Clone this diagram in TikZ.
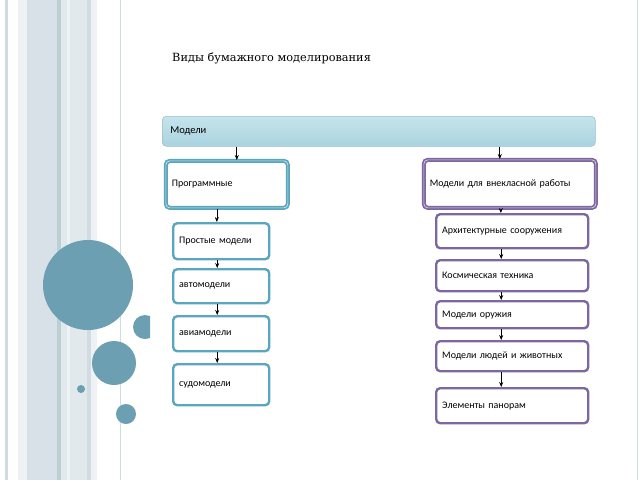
\documentclass[tikz,border=0pt]{standalone}
\usepackage{fontspec}
\setmainfont{DejaVu Serif}
\newfontfamily\boxfont{Carlito}
\usetikzlibrary{arrows.meta}
\definecolor{tealc}{HTML}{5AA6BD}
\definecolor{purp}{HTML}{7E67A0}
\definecolor{circ}{HTML}{6B9FB1}
\definecolor{stA}{HTML}{CFDDE1}
\definecolor{stB}{HTML}{EEF2F4}
\definecolor{stC}{HTML}{D8E1E7}
\definecolor{stD}{HTML}{BCCFD5}
\definecolor{stE}{HTML}{E2E9ED}
\definecolor{stF}{HTML}{D0DCE1}
\definecolor{barTop}{HTML}{C6E4EC}
\definecolor{barBot}{HTML}{A9D3DF}
\tikzset{
  arr/.style={-{Stealth[length=5pt,width=4pt]}, black, line width=0.7pt},
  lbox/.style={draw=tealc, line width=2.4pt, rounded corners=4pt, fill=white,
    font=\boxfont\fontsize{10}{12}\selectfont, align=left, anchor=north west,
    inner xsep=6pt, inner ysep=0pt},
  rbox/.style={lbox, draw=purp},
  bigl/.style={lbox, double=tealc!30, double distance=0.7pt, line width=1.7pt},
  bigr/.style={bigl, draw=purp, double=purp!30},
}
\begin{document}
\begin{tikzpicture}[x=1pt,y=-1pt]
\useasboundingbox (0,0) rectangle (640,480);
\fill[white] (0,0) rectangle (640,480);
% left stripes
\fill[stA] (5,0) rectangle (8,480);
\fill[stB] (18,0) rectangle (27,480);
\fill[stC] (27,0) rectangle (57,480);
\fill[stD] (57,0) rectangle (61,480);
\fill[stE] (61,0) rectangle (87,480);
\fill[stB] (67,0) rectangle (70,480);
\fill[stF] (87,0) rectangle (91,480);
\fill[stB] (91,0) rectangle (97,480);
\draw[stA, line width=1pt] (120,0) -- (120,480);
\draw[stA, line width=1pt] (637,0) -- (637,480);
% circles
\fill[circ] (88,285) circle (45);
\begin{scope}
\clip (0,0) rectangle (150,480);
\fill[circ] (145,327) circle (12);
\end{scope}
\fill[circ] (114,363) circle (22);
\fill[circ] (81,389) circle (4);
\fill[circ] (126,414) circle (10);
% title
\node[anchor=base west, font=\fontsize{11.3}{13}\selectfont, inner sep=0pt] (title) at (172,61) {Виды бумажного моделирования};
% models bar
\node[draw=barBot!80!black!40!barBot, line width=0.6pt, rounded corners=4pt, top color=barTop, bottom color=barBot,
  minimum width=433pt, minimum height=30pt, anchor=north west, inner xsep=8pt, align=left, text width=417pt,
  font=\boxfont\fontsize{10.5}{12}\selectfont] (bar) at (162,116) {Модели};
% left column
\node[bigl, minimum width=122pt, minimum height=47pt, text width=110pt] (prog) at (165,160) {Программные};
\node[lbox, minimum width=96pt, minimum height=36pt, text width=84pt] (l1) at (172,222) {Простые модели};
\node[lbox, minimum width=96pt, minimum height=34pt, text width=84pt] (l2) at (172,268) {автомодели};
\node[lbox, minimum width=96pt, minimum height=35pt, text width=84pt] (l3) at (172,315) {авиамодели};
\node[lbox, minimum width=96pt, minimum height=41pt, text width=84pt] (l4) at (172,363) {судомодели};
% right column
\node[bigr, minimum width=172pt, minimum height=48pt, text width=160pt] (extra) at (423,159) {Модели для внекласной работы};
\node[rbox, minimum width=152pt, minimum height=34pt, text width=140pt] (r1) at (435,213) {Архитектурные сооружения};
\node[rbox, minimum width=152pt, minimum height=31pt, text width=140pt] (r2) at (435,259) {Космическая техника};
\node[rbox, minimum width=152pt, minimum height=27pt, text width=140pt] (r3) at (435,300) {Модели оружия};
\node[rbox, minimum width=152pt, minimum height=30pt, text width=140pt] (r4) at (435,340) {Модели людей и животных};
\node[rbox, minimum width=152pt, minimum height=35pt, text width=140pt] (r5) at (435,387) {Элементы панорам};
% arrows
\draw[arr] ([xshift=-142pt]bar.south) -- ([xshift=-142pt]bar.south |- prog.north);
\draw[arr] ([xshift=121pt]bar.south) -- ([xshift=121pt]bar.south |- extra.north);
\draw[arr] ([xshift=-10pt]prog.south) -- ([xshift=-10pt]prog.south |- l1.north);
\draw[arr] ([xshift=-4pt]l1.south) -- ([xshift=-4pt]l1.south |- l2.north);
\draw[arr] ([xshift=-4pt]l2.south) -- ([xshift=-4pt]l2.south |- l3.north);
\draw[arr] ([xshift=-4pt]l3.south) -- ([xshift=-4pt]l3.south |- l4.north);
\draw[arr] ([xshift=-9pt]extra.south) -- ([xshift=-9pt]extra.south |- r1.north);
\draw[arr] ([xshift=-11pt]r1.south) -- ([xshift=-11pt]r1.south |- r2.north);
\draw[arr] ([xshift=-11pt]r2.south) -- ([xshift=-11pt]r2.south |- r3.north);
\draw[arr] ([xshift=-11pt]r3.south) -- ([xshift=-11pt]r3.south |- r4.north);
\draw[arr] ([xshift=-11pt]r4.south) -- ([xshift=-11pt]r4.south |- r5.north);
\end{tikzpicture}
\end{document}
